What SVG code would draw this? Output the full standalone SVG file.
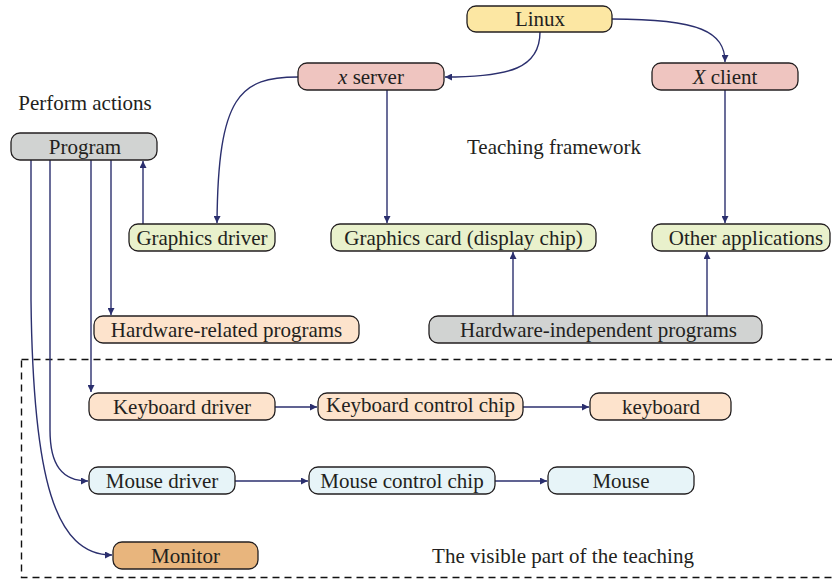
<svg xmlns="http://www.w3.org/2000/svg" width="832" height="580" viewBox="0 0 832 580" font-family="'Liberation Serif', 'Times New Roman', serif">
<style>
text{font-family:"Liberation Serif","Times New Roman",serif;font-size:21px;fill:#231f20;text-anchor:middle;dominant-baseline:central}
.n{stroke:#231f20;stroke-width:1.3}
.c path{fill:none;stroke:#2b2f6e;stroke-width:1.4}
.yel{fill:#fce7a3}.pink{fill:#efc5c0}.gray{fill:#d1d3d2}.grn{fill:#e9f1cc}.pch{fill:#fde3cc}.blu{fill:#e7f4f8}.mon{fill:#e8b57d}
</style>
<defs>
<marker id="a" viewBox="0 0 10 10" refX="10" refY="5" markerWidth="7" markerHeight="7" orient="auto" markerUnits="userSpaceOnUse"><path d="M0,0 L10,5 L0,10 Z" fill="#2b2f6e"/></marker>
</defs>
<rect x="21.5" y="359.5" width="830" height="218" fill="none" stroke="#111" stroke-width="1.4" stroke-dasharray="7,5"/>
<text x="85" y="103">Perform actions</text>
<text x="554" y="147">Teaching framework</text>
<text x="563" y="556">The visible part of the teaching</text>
<g class="c">
<path d="M540,32 C540,68 510,77 445,77" marker-end="url(#a)"/>
<path d="M612,19 C700,19 725,32 725,62" marker-end="url(#a)"/>
<path d="M298,77 C240,77 218,95 217,223" marker-end="url(#a)"/>
<path d="M387,90 L387,223" marker-end="url(#a)"/>
<path d="M725,90 L725,223" marker-end="url(#a)"/>
<path d="M513,316 L513,252" marker-end="url(#a)"/>
<path d="M707,316 L707,252" marker-end="url(#a)"/>
<path d="M143,224 L143,161" marker-end="url(#a)"/>
<path d="M111,160 L111,315" marker-end="url(#a)"/>
<path d="M91,160 L91,392" marker-end="url(#a)"/>
<path d="M50,160 L50,430 C50,465 62,481 88,481" marker-end="url(#a)"/>
<path d="M31,160 L31,300 C33,480 55,555 112,555" marker-end="url(#a)"/>
<path d="M275,407 L317,407" marker-end="url(#a)"/>
<path d="M523,407 L589,407" marker-end="url(#a)"/>
<path d="M235,481 L308,481" marker-end="url(#a)"/>
<path d="M495,481 L547,481" marker-end="url(#a)"/>
</g>
<g id="linux"><rect class="n yel" x="467" y="6" width="145" height="26" rx="9"/><text x="540" y="19">Linux</text></g>
<g id="xserver"><rect class="n pink" x="298" y="63" width="146" height="27" rx="9"/><text x="371" y="76.5"><tspan font-style="italic">x</tspan> server</text></g>
<g id="xclient"><rect class="n pink" x="652" y="63" width="146" height="27" rx="9"/><text x="725" y="76.5"><tspan font-style="italic">X</tspan> client</text></g>
<g id="program"><rect class="n gray" x="11" y="133" width="146" height="27" rx="9"/><text x="85" y="146.5">Program</text></g>
<g id="gdriver"><rect class="n grn" x="129" y="224" width="146" height="27" rx="9"/><text x="202" y="237.5">Graphics driver</text></g>
<g id="gcard"><rect class="n grn" x="331" y="224" width="265" height="27" rx="9"/><text x="463.5" y="237.5">Graphics card (display chip)</text></g>
<g id="otherapps"><rect class="n grn" x="652" y="224" width="178" height="27" rx="9"/><text x="746" y="237.5">Other applications</text></g>
<g id="hwrel"><rect class="n pch" x="94" y="316" width="265" height="27" rx="9"/><text x="226.5" y="329.5">Hardware-related programs</text></g>
<g id="hwind"><rect class="n gray" x="429" y="316" width="333" height="27" rx="9"/><text x="598.5" y="329.5">Hardware-independent programs</text></g>
<g id="kbdriver"><rect class="n pch" x="89" y="393" width="186" height="27" rx="9"/><text x="182" y="406.5">Keyboard driver</text></g>
<g id="kbchip"><rect class="n pch" x="318" y="393" width="205" height="27" rx="9"/><text x="420.5" y="404.5">Keyboard control chip</text></g>
<g id="keyboard"><rect class="n pch" x="590" y="393" width="141" height="27" rx="9"/><text x="661" y="406.5">keyboard</text></g>
<g id="mdriver"><rect class="n blu" x="89" y="467" width="146" height="27" rx="9"/><text x="162" y="480.5">Mouse driver</text></g>
<g id="mchip"><rect class="n blu" x="309" y="467" width="186" height="27" rx="9"/><text x="402" y="480.5">Mouse control chip</text></g>
<g id="mouse"><rect class="n blu" x="548" y="467" width="146" height="27" rx="9"/><text x="621" y="480.5">Mouse</text></g>
<g id="monitor"><rect class="n mon" x="113" y="542" width="145" height="27" rx="9"/><text x="185.5" y="555.5">Monitor</text></g>
</svg>
